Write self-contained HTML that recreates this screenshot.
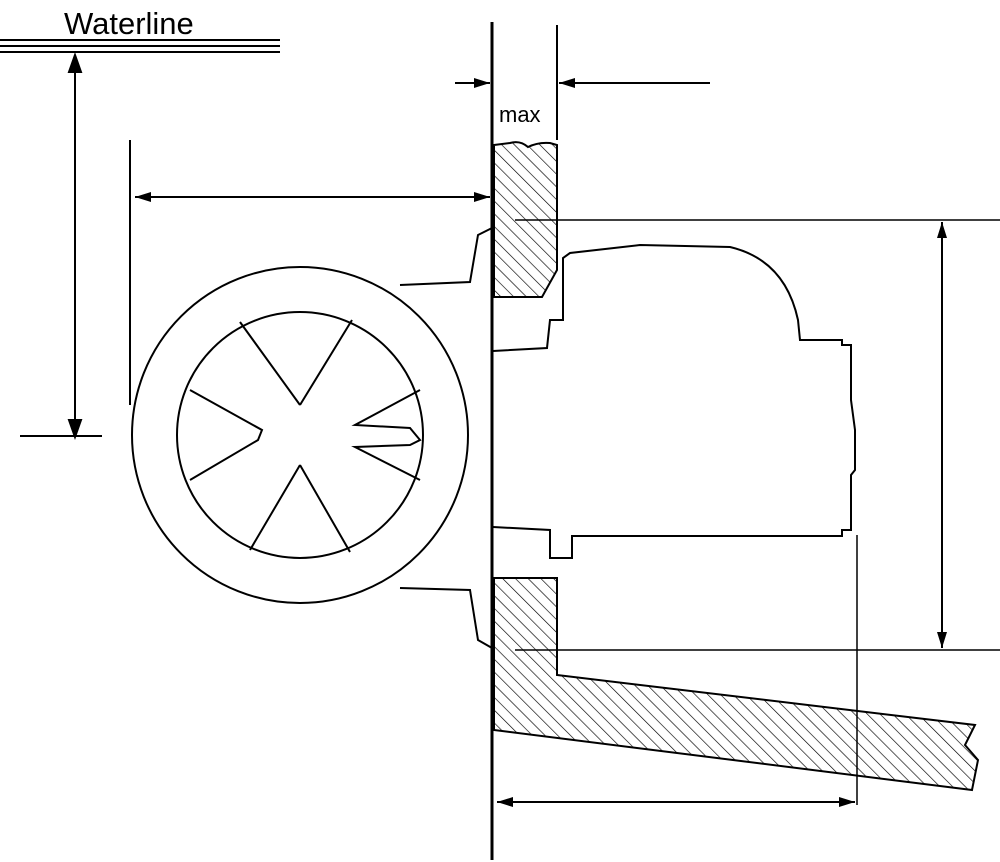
<!DOCTYPE html>
<html><head><style>html,body{margin:0;padding:0;background:#fff}svg{display:block}</style></head><body>
<svg width="1000" height="862" viewBox="0 0 1000 862" xmlns="http://www.w3.org/2000/svg">
<defs>
<pattern id="h" width="9" height="9" patternUnits="userSpaceOnUse" patternTransform="rotate(-45)">
<line x1="0" y1="0" x2="0" y2="9" stroke="#000" stroke-width="1.3"/>
</pattern>
<marker id="a2" markerWidth="16" markerHeight="10" refX="16" refY="5" orient="auto-start-reverse" markerUnits="userSpaceOnUse"><path d="M0,0 L16,5 L0,10 z" fill="#000"/></marker>
</defs>
<g fill="none" stroke="#000" stroke-width="2">
<text x="64" y="34" font-family="Liberation Sans, sans-serif" font-size="31" fill="#000" stroke="none">Waterline</text>
<line x1="0" y1="40" x2="280" y2="40"/><line x1="0" y1="46" x2="280" y2="46"/><line x1="0" y1="52" x2="280" y2="52"/>
<line x1="75" y1="70" x2="75" y2="420"/>
<path d="M75,55 L69,72 L81,72z M75,437 L69,420 L81,420z" fill="#000"/>
<line x1="20" y1="436" x2="102" y2="436"/>
<line x1="130" y1="140" x2="130" y2="405"/>
<line x1="135" y1="197" x2="490" y2="197" marker-start="url(#a2)" marker-end="url(#a2)"/>
<line x1="492" y1="22" x2="492" y2="860" stroke-width="3"/>
<line x1="557" y1="25" x2="557" y2="140"/>
<line x1="455" y1="83" x2="490" y2="83" marker-end="url(#a2)"/>
<line x1="710" y1="83" x2="559" y2="83" marker-end="url(#a2)"/>
<text x="499" y="122" font-family="Liberation Sans, sans-serif" font-size="22" fill="#000" stroke="none">max</text>
<path d="M494,145 L510,143 Q520,140 528,147 Q538,142 550,143 L557,145 L557,270 L542,297 L494,297 Z" fill="url(#h)"/>
<path d="M494,578 L557,578 L557,675 L975,725 L965,745 L978,760 L972,790 L494,730 Z" fill="url(#h)"/>
<line x1="515" y1="220" x2="1000" y2="220" stroke-width="1.5"/>
<line x1="515" y1="650" x2="1000" y2="650" stroke-width="1.5"/>
<line x1="942" y1="222" x2="942" y2="648" marker-start="url(#a2)" marker-end="url(#a2)"/>
<line x1="857" y1="535" x2="857" y2="805" stroke-width="1.5"/>
<line x1="497" y1="802" x2="855" y2="802" marker-start="url(#a2)" marker-end="url(#a2)"/>
<path d="M493,351 L547,348 L550,320 L563,320 L563,258 L570,253 L640,245 L730,247 Q785,260 798,320 L800,340 L842,340 L842,345 L851,345 L851,400 L855,430 L855,470 L851,475 L851,530 L842,530 L842,536 L572,536 L572,558 L550,558 L550,530 L493,527"/>
<circle cx="300" cy="435" r="168"/>
<circle cx="300" cy="435" r="123"/>
<path d="M400,285 L470,282 L478,235 L492,228"/>
<path d="M400,588 L470,590 L478,640 L492,648"/>
<path d="M300,405 L240,322 M300,405 L352,320"/>
<path d="M300,465 L250,550 M300,465 L350,552"/>
<path d="M190,390 L262,430 L258,440 L190,480"/>
<path d="M420,390 L355,425 L410,428 L420,440 L410,445 L355,447 L420,480"/>
</g>
</svg>
</body></html>
